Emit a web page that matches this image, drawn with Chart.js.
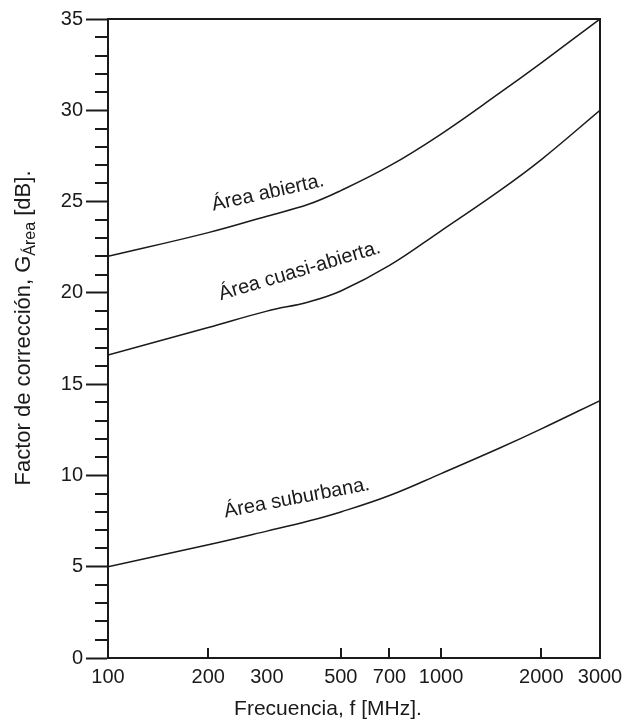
<!DOCTYPE html>
<html lang="es">
<head>
<meta charset="UTF-8">
<title>Factor de corrección por área</title>
<script src="https://cdn.jsdelivr.net/npm/chart.js@4.4.0/dist/chart.umd.min.js"></script>
<style>
  html, body { margin: 0; padding: 0; background: #fff; }
  #wrap { width: 625px; height: 724px; }
</style>
</head>
<body>
<div id="wrap"><canvas id="grafico"></canvas></div>
<script>
// frecuencias (MHz) y factor de corrección (dB) de cada tipo de área
var frecuencias = [100, 200, 300, 400, 500, 700, 1000, 1500, 2000, 3000];
var areaAbierta = [22.0, 23.3, 24.2, 24.85, 25.6, 26.95, 28.7, 30.95, 32.6, 35.0];
var areaCuasiAbierta = [16.6, 18.1, 19.0, 19.5, 20.1, 21.5, 23.4, 25.6, 27.3, 30.0];
var areaSuburbana = [5.0, 6.2, 6.95, 7.5, 8.0, 8.9, 10.1, 11.5, 12.55, 14.1];

// eje x: valores rotulados y marcas hacia dentro
var etiquetasX = [100, 200, 300, 500, 700, 1000, 2000, 3000];
var marcasX = [200, 500, 700, 1000, 2000];

// rótulos de las curvas: texto, punto de inicio (MHz, dB) e inclinación en grados
var rotulos = ["Área abierta.", "Área cuasi-abierta.", "Área suburbana."];
var rotuloFrec = [207, 218, 225];
var rotuloDb = [24.5, 19.6, 7.7];
var rotuloAngulo = [12.5, 16.5, 10.8];

var fuente = '"Liberation Sans", Arial, sans-serif';
var negro = '#1a1a1a';

function serie(valores) {
  return frecuencias.map(function (f, i) { return { x: f, y: valores[i] }; });
}

var estiloLinea = {
  borderColor: negro,
  borderWidth: 1.5,
  pointRadius: 0,
  fill: false,
  tension: 0.4
};

var datos = {
  datasets: [
    Object.assign({ label: rotulos[0], data: serie(areaAbierta) }, estiloLinea),
    Object.assign({ label: rotulos[1], data: serie(areaCuasiAbierta) }, estiloLinea),
    Object.assign({ label: rotulos[2], data: serie(areaSuburbana) }, estiloLinea)
  ]
};

// marco, marcas menores, rótulos de curvas y títulos de los ejes
var extras = {
  id: 'extras',
  afterDraw: function (chart) {
    var ctx = chart.ctx, a = chart.chartArea;
    var sx = chart.scales.x, sy = chart.scales.y;
    ctx.save();
    ctx.strokeStyle = negro;
    ctx.lineWidth = 2;

    ctx.beginPath();
    ctx.moveTo(a.left, a.top);
    ctx.lineTo(a.right, a.top);
    ctx.lineTo(a.right, a.bottom);
    ctx.stroke();

    ctx.beginPath();
    for (var v = 0; v <= 35; v++) {
      if (v % 5 === 0) continue;
      var py = Math.round(sy.getPixelForValue(v));
      ctx.moveTo(a.left - 13, py);
      ctx.lineTo(a.left, py);
    }
    marcasX.forEach(function (f) {
      var px = Math.round(sx.getPixelForValue(f));
      ctx.moveTo(px, a.bottom);
      ctx.lineTo(px, a.bottom - 10);
    });
    ctx.stroke();

    ctx.fillStyle = negro;
    ctx.font = '20px ' + fuente;
    ctx.textBaseline = 'alphabetic';
    ctx.textAlign = 'left';
    rotulos.forEach(function (t, i) {
      ctx.save();
      ctx.translate(sx.getPixelForValue(rotuloFrec[i]), sy.getPixelForValue(rotuloDb[i]));
      ctx.rotate(-rotuloAngulo[i] * Math.PI / 180);
      ctx.fillText(t, 0, 0);
      ctx.restore();
    });

    // título del eje x
    ctx.font = '21px ' + fuente;
    ctx.textAlign = 'center';
    ctx.textBaseline = 'middle';
    ctx.fillText('Frecuencia, f [MHz].', 328, 709);

    // título del eje y con subíndice
    var p1 = 'Factor de corrección, G', sub = 'Área', p2 = ' [dB].';
    ctx.font = '22px ' + fuente;
    var w1 = ctx.measureText(p1).width, w3 = ctx.measureText(p2).width;
    ctx.font = '16px ' + fuente;
    var w2 = ctx.measureText(sub).width;
    var total = w1 + w2 + w3;
    ctx.translate(24, 328);
    ctx.rotate(-Math.PI / 2);
    ctx.textAlign = 'left';
    var x0 = -total / 2;
    ctx.font = '22px ' + fuente;
    ctx.fillText(p1, x0, 0);
    ctx.font = '16px ' + fuente;
    ctx.fillText(sub, x0 + w1, 7);
    ctx.font = '22px ' + fuente;
    ctx.fillText(p2, x0 + w1 + w2, 0);
    ctx.restore();
  }
};

new Chart(document.getElementById('grafico'), {
  type: 'line',
  data: datos,
  options: {
    responsive: true,
    maintainAspectRatio: false,
    animation: false,
    layout: { padding: { top: 19, right: 25, left: 0, bottom: 0 } },
    plugins: { legend: { display: false }, tooltip: { enabled: false } },
    scales: {
      x: {
        type: 'logarithmic',
        min: 100,
        max: 3000,
        afterBuildTicks: function (scale) {
          scale.ticks = etiquetasX.map(function (v) { return { value: v }; });
        },
        afterFit: function (scale) {
          scale.height = 66;
          scale.paddingLeft = 0;
          scale.paddingRight = 0;
        },
        ticks: {
          autoSkip: false,
          maxRotation: 0,
          padding: 7,
          color: negro,
          font: { family: fuente, size: 20 },
          callback: function (v) { return String(v); }
        },
        grid: { display: false, drawTicks: false },
        border: { display: true, color: negro, width: 2 }
      },
      y: {
        min: 0,
        max: 35,
        afterFit: function (scale) { scale.width = 108; },
        ticks: {
          stepSize: 5,
          padding: 3,
          color: negro,
          font: { family: fuente, size: 20 }
        },
        grid: {
          drawOnChartArea: false,
          tickLength: 22,
          tickWidth: 2,
          tickColor: negro
        },
        border: { display: true, color: negro, width: 2 }
      }
    }
  },
  plugins: [extras]
});
</script>
</body>
</html>
